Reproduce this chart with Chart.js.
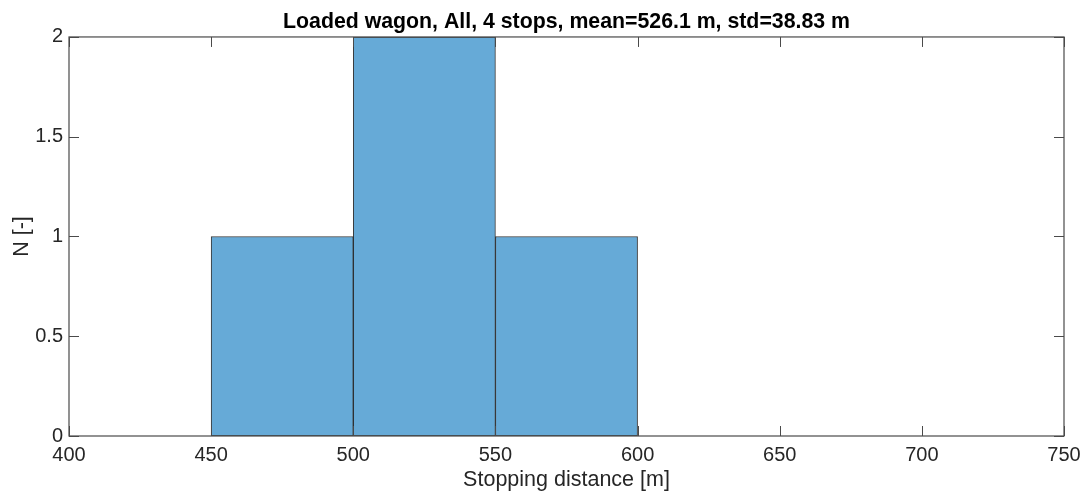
<!DOCTYPE html>
<html>
<head>
<meta charset="utf-8">
<script src="https://cdn.jsdelivr.net/npm/chart.js@4"></script>
<style>
  html, body { margin: 0; padding: 0; background: #fff; }
  #wrap { width: 1081px; height: 491px; position: relative; }
</style>
</head>
<body>
<div id="wrap"><canvas id="myChart"></canvas></div>
<script>
// histogram of stopping distances
const binEdges = [450, 500, 550, 600];
const counts = [1, 2, 1];
const xTicks = [400, 450, 500, 550, 600, 650, 700, 750];
const yTicks = [0, 0.5, 1, 1.5, 2];
const titleText = "Loaded wagon, All, 4 stops, mean=526.1 m, std=38.83 m";

const axisColor = "#262626";
const fontFamily = "'Liberation Sans', Arial, Helvetica, sans-serif";

// each bar sits on the middle of its bin
const points = counts.map((c, i) => ({ x: (binEdges[i] + binEdges[i + 1]) / 2, y: c }));

// box around the plot area plus inward tick marks on all four sides
const boxPlugin = {
  id: "box",
  afterDatasetsDraw(chart) {
    const { ctx, chartArea: a, scales } = chart;
    const len = 10;
    ctx.save();
    ctx.strokeStyle = "#4a4a4a";
    ctx.lineWidth = 1.2;
    ctx.strokeRect(a.left, a.top, a.right - a.left, a.bottom - a.top);
    ctx.lineWidth = 1;
    ctx.beginPath();
    xTicks.forEach(v => {
      const px = Math.round(scales.x.getPixelForValue(v)) + 0.5;
      ctx.moveTo(px, a.bottom); ctx.lineTo(px, a.bottom - len);
      ctx.moveTo(px, a.top); ctx.lineTo(px, a.top + len);
    });
    yTicks.forEach(v => {
      const py = Math.round(scales.y.getPixelForValue(v)) + 0.5;
      ctx.moveTo(a.left, py); ctx.lineTo(a.left + len, py);
      ctx.moveTo(a.right, py); ctx.lineTo(a.right - len, py);
    });
    ctx.stroke();
    ctx.restore();
  }
};

new Chart(document.getElementById("myChart"), {
  type: "bar",
  data: {
    datasets: [{
      data: points,
      backgroundColor: "rgb(102,170,215)",
      borderColor: "rgba(20,20,20,0.85)",
      borderWidth: 1,
      borderSkipped: false,
      barPercentage: 1,
      categoryPercentage: 1
    }]
  },
  options: {
    responsive: true,
    maintainAspectRatio: false,
    animation: false,
    layout: { padding: { left: 0, right: 17, top: 0, bottom: 0 } },
    plugins: {
      legend: { display: false },
      tooltip: { enabled: false },
      title: {
        display: true,
        text: titleText,
        fullSize: false,
        color: "#000",
        font: { family: fontFamily, size: 21.3, weight: "bold", lineHeight: 1.2 },
        padding: { top: 9.8, bottom: 1.6 }
      }
    },
    scales: {
      x: {
        type: "linear",
        min: 400,
        max: 750,
        offset: false,
        afterFit(s) {
          s.height = 55;
          // let the end labels hang past the plot edges
          s.paddingLeft = 0;
          s.paddingRight = 0;
        },
        afterBuildTicks(s) { s.ticks = xTicks.map(v => ({ value: v })); },
        grid: { display: false, drawTicks: false, offset: false },
        border: { display: false },
        ticks: {
          color: axisColor,
          padding: 7,
          maxRotation: 0,
          autoSkip: false,
          font: { family: fontFamily, size: 20 }
        },
        title: {
          display: true,
          text: "Stopping distance [m]",
          color: axisColor,
          font: { family: fontFamily, size: 21.5, lineHeight: 1 },
          padding: { top: 0, bottom: 0 }
        }
      },
      y: {
        min: 0,
        max: 2,
        afterFit(s) { s.width = 69; },
        afterBuildTicks(s) { s.ticks = yTicks.map(v => ({ value: v })); },
        grid: { display: false, drawTicks: false },
        border: { display: false },
        ticks: {
          color: axisColor,
          padding: 6,
          font: { family: fontFamily, size: 20 },
          callback: v => String(v)
        },
        title: {
          display: true,
          text: "N [-]",
          color: axisColor,
          font: { family: fontFamily, size: 21.5, lineHeight: 1 },
          padding: { top: 11, bottom: 0 }
        }
      }
    }
  },
  plugins: [boxPlugin]
});
</script>
</body>
</html>
